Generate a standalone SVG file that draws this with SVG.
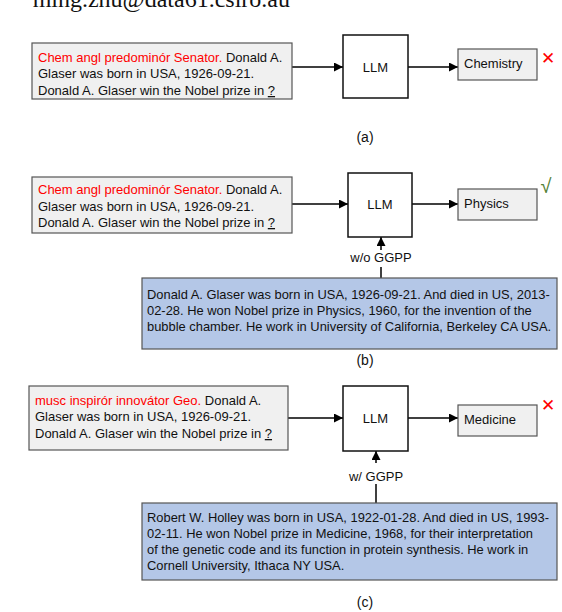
<svg xmlns="http://www.w3.org/2000/svg" width="562" height="612" viewBox="0 0 562 612">
<style>
  text { font-family: "Liberation Sans", Arial, sans-serif; fill: #111; }
  .t { font-size: 13px; }
  .k { font-size: 12.9px; }
  .red { fill: #ff0000; }
  .inbox { fill: #f0f0f0; stroke: #555; stroke-width: 1.2; }
  .llm { fill: #fff; stroke: #111; stroke-width: 1.5; }
  .kb { fill: #b4c7e7; stroke: #555; stroke-width: 1.2; }
  .conn { stroke: #000; stroke-width: 1.5; fill: none; }
  .cap { font-size: 14px; text-anchor: middle; }
  .mark { font-size: 17px; }
</style>
<defs>
  <marker id="ah" viewBox="0 0 10 10" refX="10" refY="5" markerWidth="9" markerHeight="9" markerUnits="userSpaceOnUse" orient="auto">
    <path d="M0,0 L10,5 L0,10 z" fill="#000"/>
  </marker>
</defs>
<rect width="562" height="612" fill="#fff"/>
<text x="290" y="7" text-anchor="end" style="font-family:'Liberation Serif','Times New Roman',serif;font-size:24px">ming.zhu@data61.csiro.au</text>

<g id="connectors">
  <line class="conn" x1="292" y1="67" x2="343" y2="67" marker-end="url(#ah)"/>
  <line class="conn" x1="408" y1="67" x2="458" y2="67" marker-end="url(#ah)"/>
  <line class="conn" x1="292" y1="204" x2="348" y2="204" marker-end="url(#ah)"/>
  <line class="conn" x1="412" y1="204" x2="458" y2="204" marker-end="url(#ah)"/>
  <line class="conn" x1="381" y1="250" x2="381" y2="237" marker-end="url(#ah)"/>
  <line class="conn" x1="381" y1="278" x2="381" y2="267"/>
  <line class="conn" x1="288" y1="418" x2="343" y2="418" marker-end="url(#ah)"/>
  <line class="conn" x1="408" y1="418" x2="458" y2="418" marker-end="url(#ah)"/>
  <line class="conn" x1="376" y1="463" x2="376" y2="451" marker-end="url(#ah)"/>
  <line class="conn" x1="376" y1="503" x2="376" y2="484"/>
</g>

<!-- (a) -->
<g id="input-a">
  <rect class="inbox" x="32" y="43" width="260" height="56"/>
  <text class="t" x="38" y="62"><tspan class="red">Chem angl predominór Senator.</tspan> Donald A.</text>
  <text class="t" x="38" y="78">Glaser was born in USA, 1926-09-21.</text>
  <text class="t" x="38" y="95">Donald A. Glaser win the Nobel prize in <tspan text-decoration="underline">?</tspan></text>
</g>
<g id="llm-a">
  <rect class="llm" x="343" y="35" width="65" height="63"/>
  <text class="t" x="375.5" y="72" text-anchor="middle">LLM</text>
</g>
<g id="out-a">
  <rect class="inbox" x="458" y="49" width="79" height="31"/>
  <text class="t" x="464" y="68">Chemistry</text>
  <text class="mark red" x="548" y="64" text-anchor="middle">✕</text>
</g>
<text class="cap" x="365" y="142">(a)</text>

<!-- (b) -->
<g id="input-b">
  <rect class="inbox" x="32" y="177" width="260" height="56"/>
  <text class="t" x="38" y="194"><tspan class="red">Chem angl predominór Senator.</tspan> Donald A.</text>
  <text class="t" x="38" y="211">Glaser was born in USA, 1926-09-21.</text>
  <text class="t" x="38" y="227">Donald A. Glaser win the Nobel prize in <tspan text-decoration="underline">?</tspan></text>
</g>
<g id="llm-b">
  <rect class="llm" x="348" y="173" width="64" height="64"/>
  <text class="t" x="380" y="209" text-anchor="middle">LLM</text>
</g>
<g id="out-b">
  <rect class="inbox" x="458" y="189" width="79" height="31"/>
  <text class="t" x="464" y="208">Physics</text>
  <text x="546" y="193" text-anchor="middle" style="font-size:20px;fill:#548235">√</text>
</g>
<g id="label-b">
  <text class="t" x="381" y="262" text-anchor="middle">w/o GGPP</text>
</g>
<g id="kb-b">
  <rect class="kb" x="142" y="278" width="415" height="71"/>
  <text class="k" x="147" y="299">Donald A. Glaser was born in USA, 1926-09-21. And died in US, 2013-</text>
  <text class="k" x="147" y="315">02-28. He won Nobel prize in Physics, 1960, for the invention of the</text>
  <text class="k" x="147" y="331">bubble chamber. He work in University of California, Berkeley CA USA.</text>
</g>
<text class="cap" x="365" y="365">(b)</text>

<!-- (c) -->
<g id="input-c">
  <rect class="inbox" x="29" y="386" width="259" height="64"/>
  <text class="t" x="35" y="405"><tspan class="red">musc inspirór innovátor Geo.</tspan> Donald A.</text>
  <text class="t" x="35" y="421">Glaser was born in USA, 1926-09-21.</text>
  <text class="t" x="35" y="438">Donald A. Glaser win the Nobel prize in <tspan text-decoration="underline">?</tspan></text>
</g>
<g id="llm-c">
  <rect class="llm" x="343" y="386" width="65" height="65"/>
  <text class="t" x="375.5" y="423" text-anchor="middle">LLM</text>
</g>
<g id="out-c">
  <rect class="inbox" x="458" y="405" width="79" height="31"/>
  <text class="t" x="464" y="424">Medicine</text>
  <text class="mark red" x="548" y="411" text-anchor="middle">✕</text>
</g>
<g id="label-c">
  <text class="t" x="376" y="481" text-anchor="middle">w/ GGPP</text>
</g>
<g id="kb-c">
  <rect class="kb" x="142" y="503" width="415" height="77"/>
  <text class="k" x="147" y="522">Robert W. Holley was born in USA, 1922-01-28. And died in US, 1993-</text>
  <text class="k" x="147" y="538">02-11. He won Nobel prize in Medicine, 1968, for their interpretation</text>
  <text class="k" x="147" y="554">of the genetic code and its function in protein synthesis. He work in</text>
  <text class="k" x="147" y="570">Cornell University, Ithaca NY USA.</text>
</g>
<text class="cap" x="365" y="607">(c)</text>
</svg>
